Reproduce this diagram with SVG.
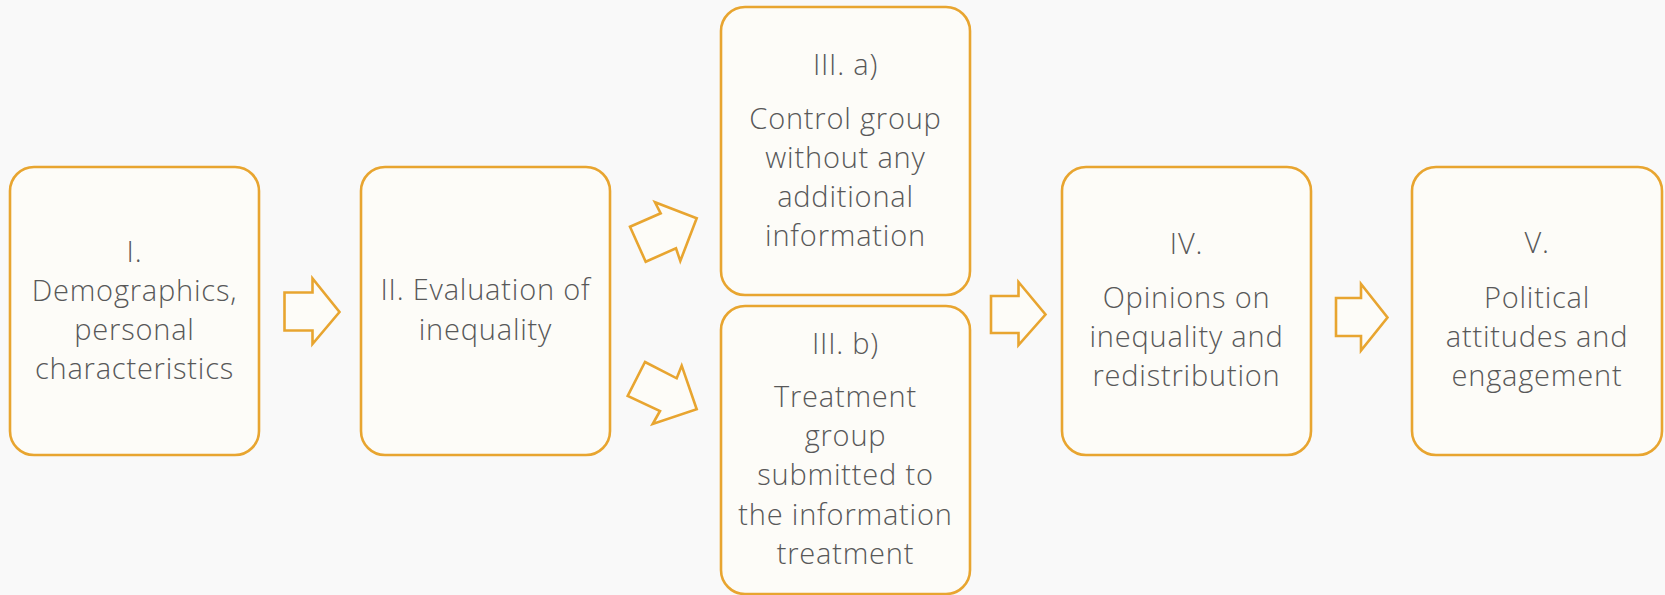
<svg xmlns="http://www.w3.org/2000/svg" width="1665" height="595" viewBox="0 0 1665 595">
<style>
.box{fill:#fdfcf8;stroke:#e8a530;stroke-width:2.6}
.arr{fill:#fdfcf8;stroke:#e8a530;stroke-width:2.6;stroke-linejoin:miter}
text{font-family:"Open Sans","Lato","Liberation Sans",sans-serif;font-weight:300;font-size:29px;letter-spacing:0.8px;fill:#585858;text-anchor:middle}
</style>
<rect x="0" y="0" width="1665" height="595" fill="#f9f9f9"/>
<g id="node-1">
<rect class="box" x="10" y="167" width="249" height="288" rx="24"/>
<text x="134.5" y="262">I.</text>
<text x="134.5" y="301">Demographics,</text>
<text x="134.5" y="340">personal</text>
<text x="134.5" y="379">characteristics</text>
</g>
<g id="node-2">
<rect class="box" x="361" y="167" width="249" height="288" rx="24"/>
<text x="485.5" y="300">II. Evaluation of</text>
<text x="485.5" y="340">inequality</text>
</g>
<g id="node-3a">
<rect class="box" x="721" y="7" width="249" height="288" rx="24"/>
<text x="845.5" y="75">III. a)</text>
<text x="845.5" y="129">Control group</text>
<text x="845.5" y="168">without any</text>
<text x="845.5" y="207">additional</text>
<text x="845.5" y="246">information</text>
</g>
<g id="node-3b">
<rect class="box" x="721" y="306" width="249" height="288" rx="24"/>
<text x="845.5" y="354">III. b)</text>
<text x="845.5" y="407">Treatment</text>
<text x="845.5" y="446">group</text>
<text x="845.5" y="485">submitted to</text>
<text x="845.5" y="525">the information</text>
<text x="845.5" y="564">treatment</text>
</g>
<g id="node-4">
<rect class="box" x="1062" y="167" width="249" height="288" rx="24"/>
<text x="1186.5" y="254">IV.</text>
<text x="1186.5" y="308">Opinions on</text>
<text x="1186.5" y="347">inequality and</text>
<text x="1186.5" y="386">redistribution</text>
</g>
<g id="node-5">
<rect class="box" x="1412" y="167" width="250" height="288" rx="24"/>
<text x="1537" y="253">V.</text>
<text x="1537" y="308">Political</text>
<text x="1537" y="347">attitudes and</text>
<text x="1537" y="386">engagement</text>
</g>
<g id="connectors">
<polygon class="arr" points="284.5,292.5 312.5,292.5 312.5,278.5 339.5,312 312.5,344 312.5,330.5 284.5,330.5"/>
<polygon class="arr" points="630,226.7 660.7,213.3 655,202.3 696.7,218.3 680.3,261 676,248.3 645.7,261.7"/>
<polygon class="arr" points="645,362 676.7,378.3 681.7,365.7 696.7,409.3 652.7,424 660,411 627.7,396"/>
<polygon class="arr" points="991,296 1018.5,296 1018.5,282 1045.5,314.5 1018.5,345 1018.5,333 991,333"/>
<polygon class="arr" points="1336,298 1361,298 1361,284 1387.5,317.5 1361,350.5 1361,336 1336,336"/>
</g>
</svg>
